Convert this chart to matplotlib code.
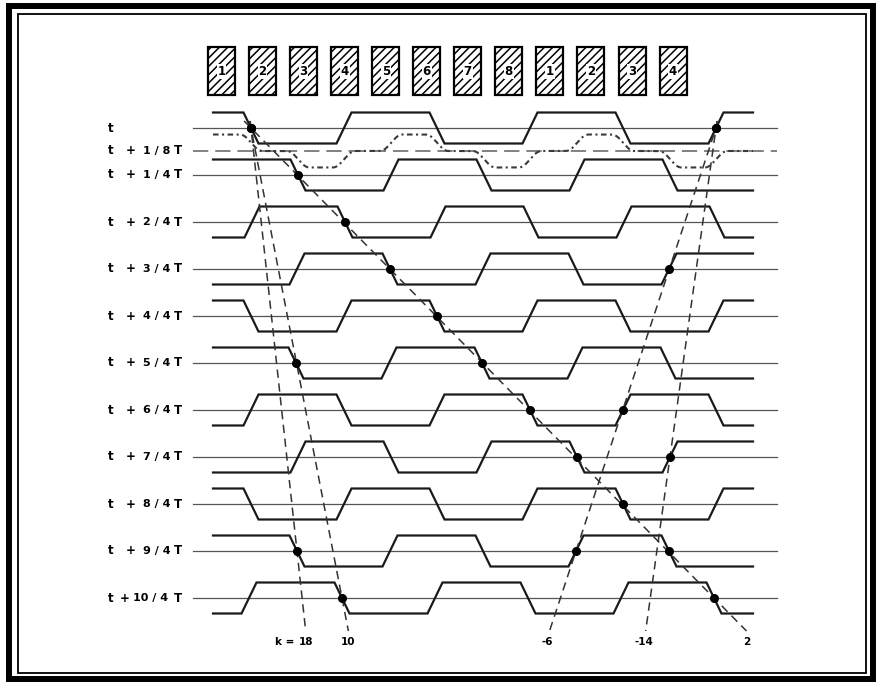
import numpy as np
import matplotlib.pyplot as plt
from matplotlib.patches import Rectangle

plt.rcParams['lines.scale_dashes'] = False
plt.rcParams['hatch.linewidth'] = 1.1
plt.rcParams['font.family'] = ['DejaVu Sans']

# numbered heads drawn above the timing diagram
head_labels = ['1', '2', '3', '4', '5', '6', '7', '8', '1', '2', '3', '4']

# row labels: t + (fraction) T
row_fracs = ['', '1 / 4', '2 / 4', '3 / 4', '4 / 4', '5 / 4', '6 / 4',
             '7 / 4', '8 / 4', '9 / 4', '10 / 4']
half_label = '1 / 8'

# x of the falling edge on the k=2 diagonal, one per row
fall_x = [251, 298, 345, 390, 437, 482, 530, 577, 623, 669, 714]
half_period = 93

# aliasing lines: label, rows with a dot, edge offset (in half periods) from fall_x
alias_labels = ['2', '18', '10', '-6', '-14']
alias_rows = [list(range(11)), [0, 9], [0, 5, 10], [0, 3, 6, 9], [0, 7]]
alias_edges = [[0] * 11, [0, -4], [0, -2, -4], [5, 3, 1, -1], [5, 1]]

# layout (pixels of the original figure)
row_y0, row_dy = 128, 47
half_y = 151
wave_x0, wave_x1 = 213, 753
base_x0, base_x1 = 193, 777
amp, ramp = 15.5, 15


def row_y(k):
    return row_y0 + row_dy * k


def wave(k, x):
    # trapezoid signal for row k, +1 high / -1 low
    vx, vy = [], []
    for n in range(-6, 9):
        e = fall_x[k] + n * half_period
        before = 1 if n % 2 == 0 else -1
        vx += [e - ramp / 2, e + ramp / 2]
        vy += [before, -before]
    return np.interp(x, vx, vy)


fig = plt.figure(figsize=(8.81, 6.83), dpi=100)
ax = fig.add_axes([0, 0, 1, 1])
ax.set_xlim(0, 881)
ax.set_ylim(683, 0)
ax.axis('off')

# frame
ax.add_patch(Rectangle((8.5, 6), 864, 673, fill=False, lw=4.3, ec='black'))
ax.add_patch(Rectangle((17.5, 14), 848.5, 658.5, fill=False, lw=1.3, ec='black'))

# heads
for i, lab in enumerate(head_labels):
    bx = 208 + 41.05 * i
    ax.add_patch(Rectangle((bx, 47), 27, 48, facecolor='white', edgecolor='black',
                           lw=1.6, hatch='////'))
    ax.text(bx + 13.5, 71.5, lab, ha='center', va='center', fontsize=8.5,
            fontweight='bold', bbox=dict(facecolor='white', edgecolor='none', pad=0.6))

# rows
x = np.arange(wave_x0, wave_x1 + 0.25, 0.25)
for k, frac in enumerate(row_fracs):
    y = row_y(k)
    ax.plot([base_x0, base_x1], [y, y], color='#555555', lw=0.9)
    ax.plot(x, y - amp * wave(k, x), color='#1a1a1a', lw=1.6,
            solid_joinstyle='miter')
    ax.text(108, y, 't', ha='left', va='center', fontsize=8.5, fontweight='bold')
    if frac:
        wide = len(frac) > 5
        ax.text(125 if wide else 131, y, '+', ha='center', va='center',
                fontsize=8.5, fontweight='bold')
        ax.text(151 if wide else 157, y, frac, ha='center', va='center',
                fontsize=8, fontweight='bold')
        ax.text(182, y, 'T', ha='right', va='center', fontsize=8.5, fontweight='bold')

# t + 1/8 T : dashed reference and the averaged signal
ax.plot([base_x0, base_x1], [half_y, half_y], color='#777777', lw=1.3,
        linestyle=(0, (11, 5)))
avg = (wave(0, x) + wave(1, x)) / 2
kern = np.ones(32) / 32
avg_s = np.convolve(np.pad(avg, 16, mode='edge'), kern, mode='same')[16:-16]
ax.plot(x, half_y - 16.5 * avg_s, color='#3a3a3a', lw=1.5,
        linestyle=(0, (4, 2.5, 1.5, 2.5)))
ax.text(108, half_y, 't', ha='left', va='center', fontsize=8.5, fontweight='bold')
ax.text(131, half_y, '+', ha='center', va='center', fontsize=8.5, fontweight='bold')
ax.text(157, half_y, half_label, ha='center', va='center', fontsize=8, fontweight='bold')
ax.text(182, half_y, 'T', ha='right', va='center', fontsize=8.5, fontweight='bold')

# aliasing lines with their dots
for lab, rows, offs in zip(alias_labels, alias_rows, alias_edges):
    dx = [fall_x[r] + o * half_period for r, o in zip(rows, offs)]
    dy = [row_y(r) for r in rows]
    slope = (dx[-1] - dx[0]) / (dy[-1] - dy[0])
    y_top, y_bot = 121, 631
    ax.plot([dx[0] + slope * (y_top - dy[0]), dx[-1] + slope * (y_bot - dy[-1])],
            [y_top, y_bot], color='#333333', lw=1.1, linestyle=(0, (6, 4)))
    ax.plot(dx, dy, 'o', color='black', ms=5.5)
    xe = dx[-1] + slope * (y_bot - dy[-1])
    ax.text(xe - (2 if lab.startswith('-') else 0), 642, lab, ha='center',
            va='center', fontsize=7.5, fontweight='bold')
    if lab == '18':
        ax.text(xe - 11, 642, 'k =', ha='right', va='center', fontsize=7.5,
                fontweight='bold')

fig.savefig('out.png', dpi=100)
